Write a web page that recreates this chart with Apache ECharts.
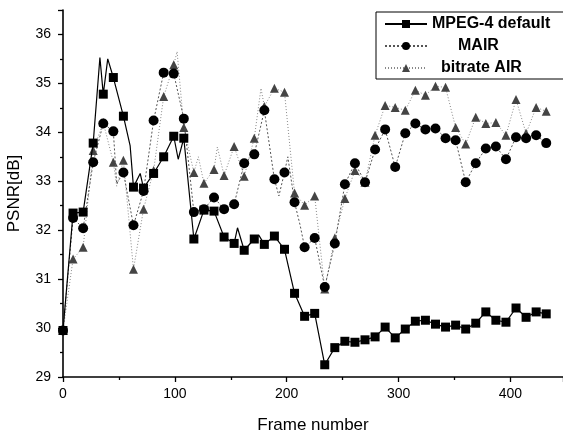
<!DOCTYPE html>
<html>
<head>
<meta charset="utf-8">
<script src="https://cdn.jsdelivr.net/npm/echarts@6/dist/echarts.min.js"></script>
<style>
  html, body { margin: 0; padding: 0; background: #fff; }
  #chart { width: 563px; height: 430px; }
</style>
</head>
<body>
<div id="chart"></div>
<script>
// frames that carry a marker (every 9th frame)
var markerFrames = [0, 9, 18, 27, 36, 45, 54, 63, 72, 81, 90, 99, 108, 117, 126, 135, 144, 153, 162, 171,
  180, 189, 198, 207, 216, 225, 234, 243, 252, 261, 270, 279, 288, 297, 306, 315, 324, 333, 342, 351,
  360, 369, 378, 387, 396, 405, 414, 423, 432];

var mpeg4Values = [29.95, 32.35, 32.37, 33.78, 34.78, 35.12, 34.33, 32.88, 32.86, 33.16, 33.5, 33.92, 33.88, 31.82,
  32.41, 32.39, 31.86, 31.73, 31.59, 31.82, 31.71, 31.88, 31.61, 30.71, 30.24, 30.3, 29.25, 29.6, 29.73, 29.71,
  29.76, 29.82, 30.02, 29.8, 29.98, 30.14, 30.16, 30.08, 30.02, 30.06, 29.98, 30.1, 30.33, 30.16, 30.12, 30.41,
  30.22, 30.33, 30.29];

var mairValues = [29.95, 32.25, 32.04, 33.39, 34.18, 34.02, 33.18, 32.1, 32.8, 34.24, 35.22, 35.2, 34.28, 32.37,
  32.43, 32.67, 32.43, 32.53, 33.37, 33.55, 34.45, 33.04, 33.18, 32.57, 31.65, 31.84, 30.84, 31.73, 32.94, 33.37,
  32.98, 33.65, 34.06, 33.29, 33.98, 34.18, 34.06, 34.08, 33.88, 33.84, 32.98, 33.37, 33.67, 33.71, 33.45, 33.9,
  33.88, 33.94, 33.78];

var bitrateAirValues = [29.95, 31.41, 31.65, 33.63, 34.2, 33.39, 33.43, 31.2, 32.43, 33.22, 34.73, 35.38, 34.1, 33.18,
  32.96, 33.24, 33.12, 33.71, 33.1, 33.88, 34.53, 34.9, 34.82, 32.76, 32.51, 32.7, 30.8, 31.84, 32.65, 33.22,
  32.98, 33.94, 34.55, 34.51, 34.45, 34.86, 34.76, 34.94, 34.92, 34.1, 33.76, 34.31, 34.18, 34.2, 33.94, 34.67,
  33.98, 34.51, 34.43];

// in-between frames without a marker: [frame, PSNR]
var mpeg4Extra = [[33, 35.53], [40, 35.5], [60, 33.73], [69, 33.16], [103, 33.45], [156, 32.05], [175, 31.9]];
var mairExtra = [[48, 32.95], [193, 32.7], [201, 33.5], [212, 32.1]];
var bitrateAirExtra = [[48, 32.9], [102, 35.65], [138, 33.7], [177, 34.9], [121, 33.5]];

var xTicks = [0, 100, 200, 300, 400];
var yTicks = [29, 30, 31, 32, 33, 34, 35, 36];

function buildData(values, extra) {
  var pts = [];
  markerFrames.forEach(function (f, i) {
    pts.push({ value: [f, values[i]] });
  });
  extra.forEach(function (p) {
    pts.push({ value: [p[0], p[1]], symbol: 'none' });
  });
  pts.sort(function (a, b) { return a.value[0] - b.value[0]; });
  return pts;
}

var chart = echarts.init(document.getElementById('chart'));
var font = 'Arial, "Liberation Sans", sans-serif';
var legendKey = { 'MPEG-4 default': 'a', 'MAIR': 'b', 'bitrate AIR': 'c' };

var option = {
  backgroundColor: '#fff',
  animation: false,
  textStyle: { fontFamily: font },
  grid: { left: 63, right: 0, top: 10, bottom: 53, outerBoundsMode: 'none' },
  legend: {
    orient: 'vertical',
    left: 376,
    top: 12,
    data: ['MPEG-4 default', 'MAIR', 'bitrate AIR'],
    itemWidth: 42,
    itemHeight: 10,
    itemGap: 6,
    padding: [4, 30, 3, 8],
    borderColor: '#000',
    borderWidth: 1,
    formatter: function (name) { return '{' + legendKey[name] + '|' + name + '}'; },
    textStyle: {
      color: '#000',
      fontSize: 16,
      fontFamily: font,
      rich: {
        a: { fontSize: 16, fontWeight: 'bold', fontFamily: font, color: '#000', lineHeight: 17 },
        b: { fontSize: 16, fontWeight: 'bold', fontFamily: font, color: '#000', lineHeight: 17, padding: [0, 0, 0, 26] },
        c: { fontSize: 16, fontWeight: 'bold', fontFamily: font, color: '#000', lineHeight: 17, padding: [0, 0, 0, 9] }
      }
    }
  },
  xAxis: {
    type: 'value',
    min: 0,
    max: 447,
    interval: 100,
    name: 'Frame number',
    nameLocation: 'middle',
    nameGap: 40,
    nameTextStyle: { fontSize: 17, color: '#000', fontFamily: font },
    axisLine: { lineStyle: { color: '#000', width: 1.6 } },
    axisTick: { inside: false, length: 5, lineStyle: { color: '#000', width: 1.3 } },
    minorTick: { show: true, splitNumber: 2, length: 3, lineStyle: { color: '#000', width: 1.3 } },
    axisLabel: { fontSize: 14, color: '#000', margin: 10, showMaxLabel: false, fontFamily: font },
    splitLine: { show: false }
  },
  yAxis: {
    type: 'value',
    min: 29,
    max: 36.5,
    interval: 1,
    name: 'PSNR[dB]',
    nameLocation: 'middle',
    nameGap: 40,
    nameTextStyle: { fontSize: 17, color: '#000', fontFamily: font },
    axisLine: { lineStyle: { color: '#000', width: 1.6 } },
    axisTick: { inside: false, length: 5, lineStyle: { color: '#000', width: 1.3 } },
    minorTick: { show: true, splitNumber: 2, length: 3, lineStyle: { color: '#000', width: 1.3 } },
    axisLabel: { fontSize: 14, color: '#000', margin: 12, showMaxLabel: false, fontFamily: font },
    splitLine: { show: false }
  },
  series: [
    {
      name: 'MPEG-4 default',
      type: 'line',
      z: 4,
      data: buildData(mpeg4Values, mpeg4Extra),
      symbol: 'rect',
      symbolSize: 9,
      showAllSymbol: true,
      lineStyle: { color: '#000', width: 1.2 },
      itemStyle: { color: '#000' }
    },
    {
      name: 'MAIR',
      type: 'line',
      z: 3,
      data: buildData(mairValues, mairExtra),
      symbol: 'circle',
      symbolSize: 10,
      showAllSymbol: true,
      lineStyle: { color: '#555', width: 1, type: [2, 2] },
      itemStyle: { color: '#000' }
    },
    {
      name: 'bitrate AIR',
      type: 'line',
      z: 2,
      data: buildData(bitrateAirValues, bitrateAirExtra),
      symbol: 'triangle',
      symbolSize: 9,
      showAllSymbol: true,
      lineStyle: { color: '#888', width: 1, type: [1, 2] },
      itemStyle: { color: '#444' }
    }
  ]
};

chart.setOption(option);
</script>
</body>
</html>
